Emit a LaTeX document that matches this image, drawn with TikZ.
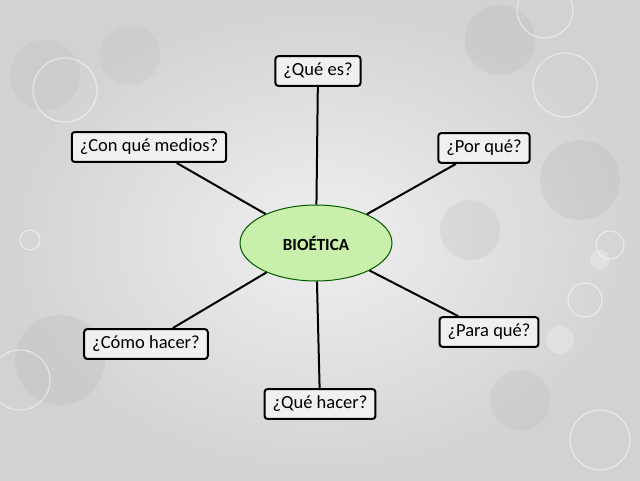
\documentclass[tikz,border=0pt]{standalone}
\usepackage{fontspec}
\setmainfont{Carlito}
\usetikzlibrary{shapes.geometric}
\begin{document}
\begin{tikzpicture}[x=1pt,y=-1pt,
  q/.style={draw=black,line width=2pt,rounded corners=3pt,fill=gray!12,inner xsep=8pt,inner ysep=7pt,font=\fontsize{18.5}{20}\selectfont},
  link/.style={line width=2pt,black},
  bub/.style={fill=white,opacity=0.25},
  ring/.style={draw=white,line width=1.2pt,opacity=0.5}]
\fill[gray!35] (0,0) rectangle (640,480);
\fill[inner color=gray!12,outer color=gray!35] (0,0) rectangle (640,480);
\useasboundingbox (0,0) rectangle (640,480);
\fill[gray!50,opacity=0.3] (45,75) circle (35);
\fill[gray!50,opacity=0.25] (130,55) circle (30);
\fill[gray!55,opacity=0.3] (60,360) circle (45);
\fill[gray!55,opacity=0.3] (500,40) circle (35);
\fill[gray!55,opacity=0.3] (580,180) circle (40);
\fill[gray!55,opacity=0.25] (520,400) circle (30);
\fill[gray!55,opacity=0.25] (470,230) circle (30);
\draw[ring] (65,90) circle (32);
\draw[ring] (545,10) circle (28);
\draw[ring] (565,85) circle (32);
\draw[ring] (585,300) circle (17);
\draw[ring] (610,245) circle (14);
\draw[ring] (20,380) circle (30);
\draw[ring] (600,440) circle (30);
\draw[ring] (30,240) circle (10);
\fill[bub] (600,260) circle (10);
\fill[bub] (560,340) circle (14);
\node[ellipse,draw=green!35!black,line width=1pt,fill={rgb,255:red,200;green,240;blue,170},minimum width=152pt,minimum height=76pt,font=\bfseries\fontsize{17}{19}\selectfont] (c) at (316,243) {BIOÉTICA};
\node[q] (a) at (318,71) {¿Qué es?};
\node[q] (b) at (149,147) {¿Con qué medios?};
\node[q] (d) at (484,148) {¿Por qué?};
\node[q] (e) at (146,344) {¿Cómo hacer?};
\node[q] (f) at (489,332) {¿Para qué?};
\node[q] (g) at (320,404) {¿Qué hacer?};
\draw[link] (a) -- (c);
\draw[link] (b) -- (c);
\draw[link] (d) -- (c);
\draw[link] (e) -- (c);
\draw[link] (f) -- (c);
\draw[link] (g) -- (c);
\end{tikzpicture}
\end{document}
